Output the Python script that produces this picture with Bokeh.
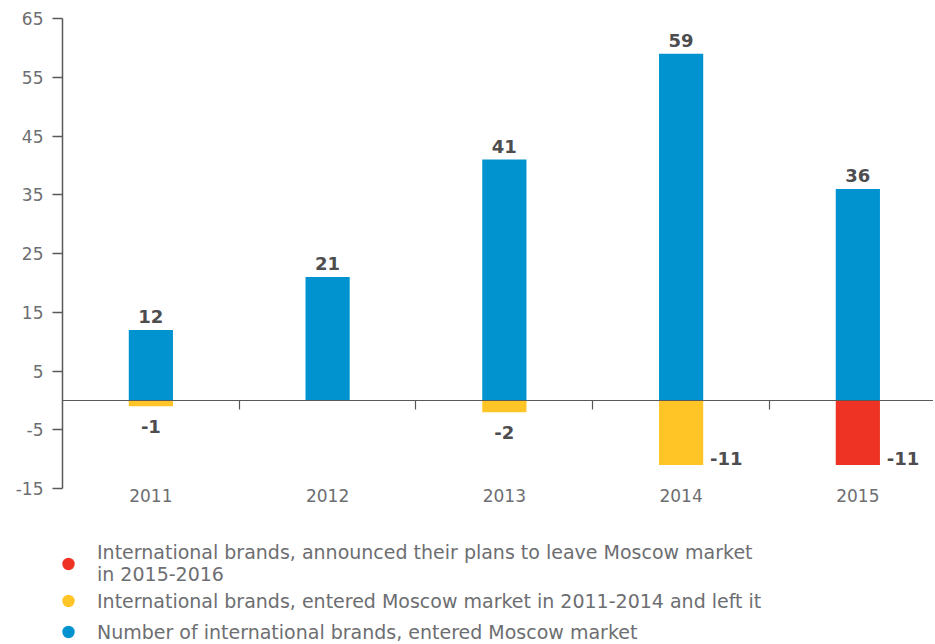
from bokeh.plotting import figure
from bokeh.layouts import column
from bokeh.models import (Range1d, FixedTicker, LinearAxis, Legend, LegendItem,
                          ColumnDataSource)
from bokeh.core.properties import value
from bokeh.embed import file_html
from bokeh.resources import INLINE

# ---- data ----
years = [2011, 2012, 2013, 2014, 2015]
entered = [12, 21, 41, 59, 36]            # Number of international brands, entered Moscow market
entered_and_left = [-1, 0, -2, -11, 0]    # entered in 2011-2014 and left it
plan_to_leave = [0, 0, 0, 0, -11]         # announced plans to leave in 2015-2016
y_ticks = [-15, -5, 5, 15, 25, 35, 45, 55, 65]
legend_labels = [
    "International brands, announced their plans to leave Moscow market\nin 2015-2016",
    "International brands, entered Moscow market in 2011-2014 and left it",
    "Number of international brands, entered Moscow market",
]

BLUE = "#0093d0"
YELLOW = "#ffc425"
RED = "#ee3224"
TICK_COLOR = "#6d6e71"
AXIS_COLOR = "#58595b"
LABEL_COLOR = "#4d4d4f"
FONT = "DejaVu Sans"

p = figure(width=933, height=535, output_backend="svg", toolbar_location=None,
           x_range=Range1d(2010.5, 2015.428), y_range=Range1d(-15, 65),
           min_border_left=62, min_border_top=18, min_border_right=0,
           min_border_bottom=47)
p.outline_line_color = None
p.grid.visible = False
p.background_fill_color = "white"

BAR_W = 0.25

# positive bars
src_pos = ColumnDataSource(dict(x=years, top=entered, lab=[str(v) for v in entered]))
p.vbar(x="x", top="top", bottom=0, width=BAR_W, source=src_pos,
       fill_color=BLUE, line_color=None)

# negative bars
yl = [(x, v) for x, v in zip(years, entered_and_left) if v != 0]
src_y = ColumnDataSource(dict(x=[a for a, _ in yl], bottom=[b for _, b in yl]))
p.vbar(x="x", top=0, bottom="bottom", width=BAR_W, source=src_y,
       fill_color=YELLOW, line_color=None)
rl = [(x, v) for x, v in zip(years, plan_to_leave) if v != 0]
src_r = ColumnDataSource(dict(x=[a for a, _ in rl], bottom=[b for _, b in rl]))
p.vbar(x="x", top=0, bottom="bottom", width=BAR_W, source=src_r,
       fill_color=RED, line_color=None)

# value labels
p.text(x="x", y="top", text="lab", source=src_pos, text_align="center",
       text_baseline="bottom", y_offset=-7, text_font=value(FONT),
       text_font_style="bold", text_font_size="18px", text_color=LABEL_COLOR)

neg = yl + rl
small = [(x, v) for x, v in neg if abs(v) < 5]
big = [(x, v) for x, v in neg if abs(v) >= 5]
src_small = ColumnDataSource(dict(x=[a for a, _ in small], y=[b for _, b in small],
                                  lab=[str(b) for _, b in small]))
src_big = ColumnDataSource(dict(x=[a for a, _ in big], y=[b for _, b in big],
                                lab=[str(b) for _, b in big]))
p.text(x="x", y="y", text="lab", source=src_small, text_align="center",
       text_baseline="top", y_offset=14, text_font=value(FONT),
       text_font_style="bold", text_font_size="18px", text_color=LABEL_COLOR)
p.text(x="x", y="y", text="lab", source=src_big, text_align="left",
       text_baseline="middle", x_offset=29, y_offset=-7, text_font=value(FONT),
       text_font_style="bold", text_font_size="18px", text_color=LABEL_COLOR)

# y axis
ya = p.yaxis[0]
ya.ticker = FixedTicker(ticks=y_ticks)
ya.major_label_overrides = {t: str(t) for t in y_ticks}
ya.major_tick_out = 10
ya.major_tick_in = 0
ya.minor_tick_line_color = None
ya.axis_line_color = AXIS_COLOR
ya.major_tick_line_color = AXIS_COLOR
ya.axis_line_width = 1.5
ya.major_tick_line_width = 1.5
ya.major_label_standoff = 9
ya.major_label_text_font = FONT
ya.major_label_text_font_size = "17px"
ya.major_label_text_color = TICK_COLOR

# bottom axis: year labels only
xa = p.xaxis[0]
xa.ticker = FixedTicker(ticks=years, minor_ticks=[])
xa.major_label_overrides = {y: str(y) for y in years}
xa.axis_line_color = None
xa.major_tick_line_color = None
xa.major_tick_out = 0
xa.major_tick_in = 0
xa.major_label_standoff = 0
xa.major_label_text_font = FONT
xa.major_label_text_font_size = "17px"
xa.major_label_text_color = TICK_COLOR

# zero line axis with ticks at category boundaries
bounds = [y + 0.5 for y in years[:-1]]
za = LinearAxis(fixed_location=0, ticker=FixedTicker(ticks=bounds, minor_ticks=[]))
za.major_tick_in = 9
za.major_tick_out = 0
za.major_label_overrides = {b: "" for b in bounds}
za.major_label_standoff = 0
za.axis_line_color = AXIS_COLOR
za.major_tick_line_color = AXIS_COLOR
za.axis_line_width = 1.2
za.major_tick_line_width = 1.2
p.add_layout(za, "above")

# legend in its own strip below the chart
lf = figure(width=933, height=107, output_backend="svg", toolbar_location=None,
            x_range=Range1d(0, 1), y_range=Range1d(0, 1),
            x_axis_location=None, y_axis_location=None,
            min_border_left=62, min_border_right=0, min_border_top=0,
            min_border_bottom=0)
lf.grid.visible = False
lf.outline_line_color = None
series = [(plan_to_leave, RED), (entered_and_left, YELLOW), (entered, BLUE)]
items = []
for lab, (vals, col) in zip(legend_labels, series):
    r = lf.scatter(x=years, y=vals, marker="circle", size=14,
                   fill_color=col, line_color=None, visible=False)
    items.append(LegendItem(label=lab, renderers=[r]))
legend = Legend(items=items, location=(-12, -5), orientation="vertical",
                margin=0, padding=0, spacing=0, glyph_width=36, glyph_height=31,
                label_standoff=11, label_text_font=FONT, label_text_font_size="19px",
                label_text_color=TICK_COLOR, border_line_color=None,
                background_fill_alpha=0, inactive_fill_alpha=0)
lf.add_layout(legend, "center")

open("out.html", "w").write(file_html(column(p, lf, spacing=0), INLINE))
